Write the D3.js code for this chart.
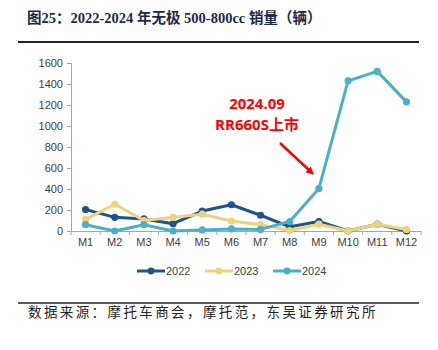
<!DOCTYPE html>
<html><head><meta charset="utf-8">
<script src="https://cdn.jsdelivr.net/npm/d3@7"></script>
<style>body{margin:0;background:#fff}svg{display:block}</style>
</head><body><svg id="c" width="438" height="350"></svg>
<script>
const months = ["M1","M2","M3","M4","M5","M6","M7","M8","M9","M10","M11","M12"];
const s2022 = [205,130,115,70,190,250,150,40,90,0,65,0];
const s2023 = [110,255,100,130,160,95,60,5,65,0,65,15];
const s2024 = [60,0,60,0,10,20,15,90,405,1430,1520,1230];
const yTicks = [0,200,400,600,800,1000,1200,1400,1600];
const seriesNames = ["2022","2023","2024"];
const colors = ["#1f5486","#efd27c","#4bafc8"];
const seriesData = [s2022,s2023,s2024];

const svg = d3.select("#c");
const x = d3.scaleBand().domain(months).range([71,421]);
const y = d3.scaleLinear().domain([0,1600]).range([231,63]);

// title
svg.append("text").attr("x",27).attr("y",23)
  .attr("font-family","'Liberation Serif','Noto Sans CJK SC',serif").attr("font-weight","bold")
  .attr("font-size",14.5).attr("fill","#1b2a48")
  .text("图25：2022-2024 年无极 500-800cc 销量（辆）");
svg.append("line").attr("x1",18).attr("x2",419).attr("y1",42).attr("y2",42).attr("stroke","#222").attr("stroke-width",1.8);

// axes
const yAxis = svg.append("g").attr("transform","translate(71,0)")
  .call(d3.axisLeft(y).tickValues(yTicks).tickFormat(d3.format("d")).tickSize(4).tickPadding(4));
const xAxis = svg.append("g").attr("transform","translate(0,231)")
  .call(d3.axisBottom(x).tickSize(0).tickPadding(7));
[yAxis,xAxis].forEach(g=>{
  g.selectAll("path").attr("stroke","#a6a6a6");
  g.selectAll("line").attr("stroke","#a6a6a6");
  g.selectAll("text").attr("font-family","'Liberation Sans',Arial,sans-serif").attr("font-size",11).attr("fill","#404040");
});
// x ticks between bands
xAxis.selectAll(".sep").data(months.concat(["end"])).enter().append("line")
  .attr("x1",(d,i)=>71+i*x.step()).attr("x2",(d,i)=>71+i*x.step())
  .attr("y1",0).attr("y2",4).attr("stroke","#a6a6a6");

// lines
const line = d3.line().x((d,i)=>x(months[i])+x.bandwidth()/2).y(d=>y(d));
seriesData.forEach((s,k)=>{
  const g = svg.append("g");
  g.append("path").attr("d",line(s)).attr("fill","none").attr("stroke",colors[k]).attr("stroke-width",3).attr("stroke-linejoin","round");
  g.selectAll("circle").data(s).enter().append("circle")
    .attr("cx",(d,i)=>x(months[i])+x.bandwidth()/2).attr("cy",d=>y(d)).attr("r",3.6).attr("fill",colors[k]);
});

// annotation
const ann = svg.append("g").attr("font-family","'Open Sans','Liberation Sans','Noto Sans CJK SC',sans-serif")
  .attr("font-weight","bold").attr("font-size",15).attr("fill","#ff0000").attr("text-anchor","middle");
ann.append("text").attr("x",257).attr("y",109).text("2024.09");
ann.append("text").attr("x",257).attr("y",130).text("RR660S上市");
svg.append("defs").append("marker").attr("id","ah").attr("viewBox","0 0 10 10").attr("refX",5).attr("refY",5)
  .attr("markerWidth",3.2).attr("markerHeight",3.2).attr("orient","auto")
  .append("path").attr("d","M0,0L10,5L0,10z").attr("fill","#ff0000");
svg.append("line").attr("x1",280).attr("y1",143).attr("x2",311).attr("y2",172)
  .attr("stroke","#ff0000").attr("stroke-width",2.5).attr("marker-end","url(#ah)");

// legend
const lg = svg.append("g");
const lx = [137,205,273];
seriesNames.forEach((n,k)=>{
  lg.append("line").attr("x1",lx[k]).attr("x2",lx[k]+28).attr("y1",271).attr("y2",271).attr("stroke",colors[k]).attr("stroke-width",3);
  lg.append("circle").attr("cx",lx[k]+14).attr("cy",271).attr("r",3.4).attr("fill",colors[k]);
  lg.append("text").attr("x",lx[k]+29).attr("y",275).attr("font-family","'Liberation Sans',Arial,sans-serif")
    .attr("font-size",11).attr("fill","#404040").text(n);
});

// footer
svg.append("line").attr("x1",18).attr("x2",419).attr("y1",303).attr("y2",303).attr("stroke","#222").attr("stroke-width",1.5);
svg.append("text").attr("x",28).attr("y",317).attr("font-family","'Noto Sans CJK SC',sans-serif")
  .attr("font-size",13.5).attr("letter-spacing",2.4).attr("fill","#222").text("数据来源：摩托车商会，摩托范，东吴证券研究所");
</script></body></html>
